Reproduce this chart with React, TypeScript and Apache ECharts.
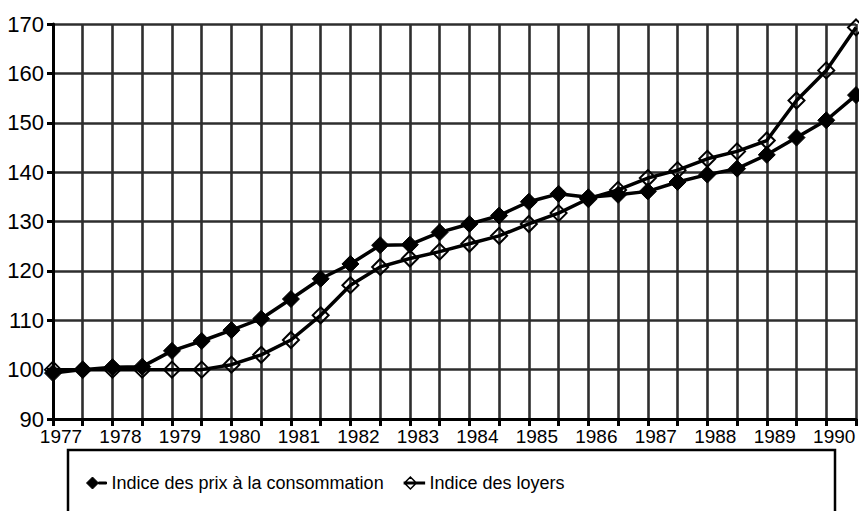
import React, { useEffect, useRef } from "react";
import * as echarts from "echarts";

const periods = [
  "1977-1", "1977-2", "1978-1", "1978-2", "1979-1", "1979-2", "1980-1",
  "1980-2", "1981-1", "1981-2", "1982-1", "1982-2", "1983-1", "1983-2",
  "1984-1", "1984-2", "1985-1", "1985-2", "1986-1", "1986-2", "1987-1",
  "1987-2", "1988-1", "1988-2", "1989-1", "1989-2", "1990-1", "1990-2",
];

const cpiValues = [
  99.3, 100.0, 100.5, 100.6, 103.8, 105.8, 108.0, 110.3, 114.3, 118.4,
  121.4, 125.2, 125.3, 127.8, 129.5, 131.2, 134.0, 135.6, 134.9, 135.4,
  136.1, 138.0, 139.5, 140.7, 143.5, 147.0, 150.5, 155.6,
];

const rentValues = [
  100.0, 100.0, 100.0, 100.0, 100.0, 100.0, 101.0, 103.0, 106.0, 111.0,
  117.1, 120.8, 122.5, 123.9, 125.5, 127.1, 129.5, 131.7, 134.6, 136.4,
  138.8, 140.4, 142.7, 144.2, 146.4, 154.5, 160.6, 169.3,
];

const seriesNames = ["Indice des prix à la consommation", "Indice des loyers"];

const FONT = '"Liberation Sans", Arial, sans-serif';

const LEGEND_ICON = "path://M0,6 L6,0 L12,6 L6,12 Z M12,5 L20,5 L20,7 L12,7 Z";
const LEGEND_ICON_OPEN = "path://M0,6 L6,0 L12,6 L6,12 Z M0,5.2 L20,5.2 L20,6.8 L0,6.8 Z";

export default function App() {
  const ref = useRef<HTMLDivElement>(null);

  useEffect(() => {
    document.body.style.margin = "0";
    if (!ref.current) return;
    const chart = echarts.init(ref.current, null, { renderer: "svg" });
    chart.setOption({
      animation: false,
      backgroundColor: "#fff",
      textStyle: { fontFamily: FONT },
      grid: { left: 53, right: 2, top: 24, bottom: 92, containLabel: false },
      xAxis: {
        type: "category",
        data: periods,
        boundaryGap: false,
        axisLine: { show: true, lineStyle: { color: "#000", width: 3 } },
        axisTick: { show: true, interval: 0, length: 7, lineStyle: { color: "#000", width: 3 } },
        splitLine: { show: true, interval: 0, lineStyle: { color: "#2e2e2e", width: 2.6 } },
        axisLabel: {
          interval: 0,
          color: "#000",
          fontSize: 19,
          fontFamily: FONT,
          margin: 8,
          padding: [0, 0, 0, 16],
          formatter: (v: string, i: number) => (i % 2 === 0 ? v.split("-")[0] : ""),
        },
      },
      yAxis: {
        type: "value",
        min: 90,
        max: 170,
        interval: 10,
        axisLine: { show: true, lineStyle: { color: "#000", width: 3 } },
        axisTick: { show: true, length: 6, lineStyle: { color: "#000", width: 3 } },
        splitLine: { show: true, lineStyle: { color: "#2e2e2e", width: 2.6 } },
        axisLabel: { color: "#000", fontSize: 22, fontFamily: FONT, margin: 9 },
      },
      legend: {
        left: 81,
        top: 469,
        itemGap: 20,
        itemWidth: 20,
        itemHeight: 12,
        textStyle: { color: "#000", fontSize: 18, fontFamily: FONT },
        data: [
          {
            name: seriesNames[0],
            icon: LEGEND_ICON,
            itemStyle: { color: "#000", borderColor: "#000", borderWidth: 1 },
          },
          {
            name: seriesNames[1],
            icon: LEGEND_ICON_OPEN,
            itemStyle: { color: "#fff", borderColor: "#000", borderWidth: 1.5 },
          },
        ],
      },
      graphic: [
        {
          type: "rect",
          shape: { x: 68, y: 450, width: 767, height: 80 },
          style: { fill: "none", stroke: "#000", lineWidth: 2.5 },
          silent: true,
        },
      ],
      series: [
        {
          name: seriesNames[0],
          type: "line",
          data: cpiValues,
          symbol: "diamond",
          symbolSize: 17,
          lineStyle: { color: "#000", width: 3.5 },
          itemStyle: { color: "#000", borderColor: "#000", borderWidth: 1 },
          z: 3,
        },
        {
          name: seriesNames[1],
          type: "line",
          data: rentValues,
          symbol: "diamond",
          symbolSize: 16,
          lineStyle: { color: "#000", width: 3.5 },
          itemStyle: { color: "rgba(255,255,255,0)", borderColor: "#000", borderWidth: 2 },
          z: 2,
        },
      ],
    });
    return () => chart.dispose();
  }, []);

  return <div ref={ref} style={{ width: 859, height: 511 }} />;
}
